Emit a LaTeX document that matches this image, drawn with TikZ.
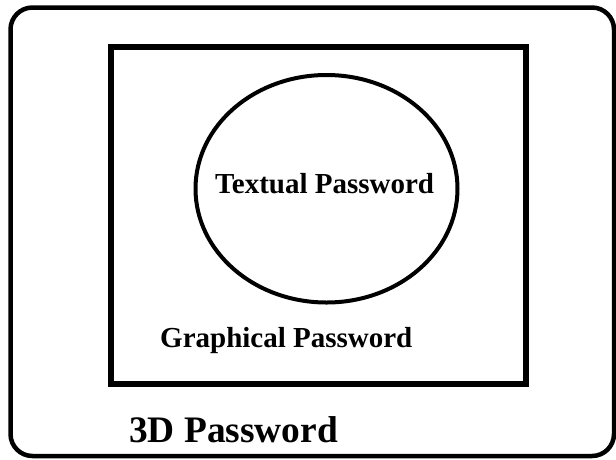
\documentclass[tikz,border=0pt]{standalone}
\usepackage{fontspec}
\setmainfont{Liberation Serif}
\usetikzlibrary{shapes.geometric}
\tikzset{
  lbl/.style={anchor=base west, inner sep=0pt, font=\bfseries\fontsize{29}{32}\selectfont},
  biglbl/.style={anchor=base west, inner sep=0pt, font=\bfseries\fontsize{37.4}{40}\selectfont},
  outerbox/.style={draw=black, line width=4.5pt, rounded corners=22pt},
  innerbox/.style={draw=black, line width=6pt},
  oval/.style={draw=black, line width=4pt}
}
\begin{document}
\begin{tikzpicture}[x=1pt,y=-1pt]
\useasboundingbox (0,0) rectangle (616,459);
\draw[outerbox] (10.5,7.5) rectangle (614,456);
\draw[innerbox] (110.5,46.5) rectangle (526,383.5);
\draw[oval] (326.5,188.75) ellipse [x radius=131, y radius=113.75];
\node[lbl] (tp) at (215,193) {Textual Password};
\node[lbl] (gp) at (160,347) {Graphical Password};
\node[biglbl] (dp) at (129,442) {3D Password};
\end{tikzpicture}
\end{document}
